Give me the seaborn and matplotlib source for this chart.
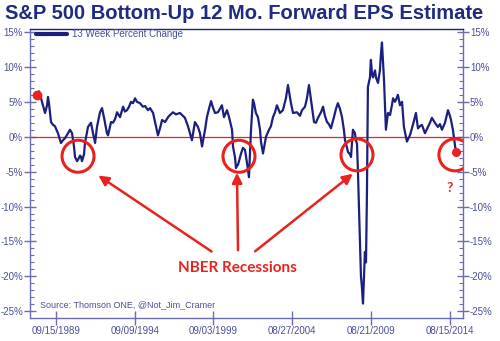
import numpy as np
import pandas as pd
import matplotlib
matplotlib.use("Agg")
import matplotlib.pyplot as plt
from matplotlib.patches import Ellipse
import seaborn as sns

# ---- data (decimal years, 13-week % change) ----
years = [1988.50, 1988.63, 1988.76, 1988.88, 1989.01, 1989.14, 1989.20, 1989.26, 1989.39, 1989.52,
         1989.64, 1989.83, 1990.02, 1990.15, 1990.28, 1990.47, 1990.59, 1990.72, 1990.85, 1990.91,
         1991.04, 1991.10, 1991.23, 1991.29, 1991.35, 1991.48, 1991.54, 1991.73, 1991.92, 1992.05,
         1992.18, 1992.30, 1992.49, 1992.62, 1992.74, 1992.93, 1993.00, 1993.19, 1993.31, 1993.44,
         1993.57, 1993.76, 1993.95, 1994.07, 1994.20, 1994.33, 1994.45, 1994.58, 1994.71, 1994.83,
         1995.02, 1995.21, 1995.34, 1995.53, 1995.66, 1995.85, 1996.04, 1996.16, 1996.29, 1996.42,
         1996.61, 1996.80, 1996.92, 1997.11, 1997.30, 1997.55, 1997.87, 1998.06, 1998.31, 1998.50,
         1998.69, 1998.82, 1998.95, 1999.14, 1999.26, 1999.39, 1999.52, 1999.64, 1999.77, 1999.96,
         2000.21, 2000.34, 2000.53, 2000.66, 2000.85, 2000.91, 2001.04, 2001.10, 2001.16, 2001.23,
         2001.35, 2001.42, 2001.54, 2001.67, 2001.80, 2001.92, 2001.99, 2002.05, 2002.17, 2002.24,
         2002.36, 2002.49, 2002.62, 2002.68, 2002.81, 2003.00, 2003.19, 2003.31, 2003.44, 2003.57,
         2003.69, 2003.88, 2004.07, 2004.26, 2004.39, 2004.58, 2004.71, 2004.96, 2005.15, 2005.28,
         2005.47, 2005.59, 2005.72, 2005.91, 2006.04, 2006.16, 2006.29, 2006.48, 2006.61, 2006.73,
         2006.86, 2006.98, 2007.11, 2007.30, 2007.43, 2007.55, 2007.68, 2007.81, 2007.93, 2008.00,
         2008.12, 2008.19, 2008.31, 2008.38, 2008.44, 2008.50, 2008.63, 2008.69, 2008.76, 2008.82,
         2008.95, 2009.01, 2009.07, 2009.14, 2009.20, 2009.26, 2009.33, 2009.39, 2009.45, 2009.58,
         2009.64, 2009.71, 2009.77, 2009.90, 2009.96, 2010.09, 2010.21, 2010.28, 2010.34, 2010.40,
         2010.47, 2010.59, 2010.72, 2010.85, 2010.97, 2011.04, 2011.16, 2011.23, 2011.35, 2011.48,
         2011.61, 2011.73, 2011.92, 2012.11, 2012.30, 2012.49, 2012.62, 2012.74, 2012.87, 2013.06,
         2013.25, 2013.38, 2013.50, 2013.69, 2013.88, 2014.01, 2014.14, 2014.33, 2014.52, 2014.64,
         2014.71, 2014.83, 2014.96, 2015.02]
pct_change = [6.0, 6.5, 5.5, 4.5, 3.4, 4.5, 5.7, 4.8, 2.1, 1.7,
              1.5, 0.5, -0.9, -0.5, -0.2, 0.5, 1.0, 0.5, -1.5, -2.9,
              -3.5, -3.3, -2.7, -2.9, -3.5, -2.5, -0.9, 1.4, 2.0, 0.5,
              -0.9, 1.4, 3.5, 4.1, 2.8, 0.5, 0.2, 2.1, 2.0, 2.5,
              3.5, 2.8, 4.3, 3.6, 3.8, 4.3, 5.0, 4.8, 5.5, 5.0,
              4.8, 4.3, 4.4, 3.8, 4.1, 3.4, 1.4, 0.2, 1.2, 2.4,
              2.1, 2.8, 3.1, 3.5, 3.2, 3.4, 2.7, 1.5, -0.5, 2.1,
              1.4, 0.5, -1.4, 1.0, 2.8, 4.0, 5.1, 4.2, 3.4, 3.5,
              4.5, 2.8, 3.8, 2.8, 1.0, -1.4, -3.0, -4.5, -4.2, -4.0,
              -3.0, -2.4, -1.6, -1.9, -3.8, -5.8, -2.0, 1.0, 5.3, 4.8,
              3.4, 2.8, 1.0, -0.7, -2.4, 0.0, 1.0, 1.5, 2.8, 3.5,
              4.5, 3.4, 3.8, 5.5, 7.4, 4.8, 3.4, 3.5, 3.0, 3.8,
              4.3, 5.5, 7.4, 4.3, 2.1, 2.0, 2.7, 3.5, 4.3, 3.0,
              2.1, 1.8, 1.2, 2.8, 4.0, 4.8, 4.0, 2.8, 1.0, -0.5,
              -1.5, -2.2, -2.5, -2.9, -1.0, 1.0, 0.5, -0.5, -1.0, -5.0,
              -15.0, -20.0, -21.5, -23.9, -20.0, -16.5, -18.0, -8.0, 7.1, 8.5,
              11.0, 9.0, 8.5, 9.5, 8.5, 7.7, 9.5, 12.0, 13.5, 11.0,
              8.1, 1.0, 3.4, 3.1, 4.5, 5.5, 5.0, 5.3, 6.0, 4.5,
              5.0, 1.4, -0.7, 0.2, 1.7, 3.4, 1.2, 1.5, 1.7, 0.5,
              1.4, 2.0, 2.7, 2.0, 1.4, 1.8, 1.0, 2.0, 3.8, 3.0,
              2.4, 1.0, -1.2, -2.2]
tick_dates = ["1989-09-15", "1994-09-09", "1999-09-03", "2004-08-27", "2009-08-21", "2014-08-15"]
tick_labels = ["09/15/1989", "09/09/1994", "09/03/1999", "08/27/2004", "08/21/2009", "08/15/2014"]
y_ticks = [-25, -20, -15, -10, -5, 0, 5, 10, 15]
recession_centers = [1991.10, 2001.29, 2008.76]
recession_levels = [-2.8, -2.8, -2.6]
latest_center = [2014.96, -2.6]
series_label = "13 Week Percent Change"
title = "S&P 500 Bottom-Up 12 Mo. Forward EPS Estimate"
source = "Source: Thomson ONE, @Not_Jim_Cramer"

def to_dec(s):
    t = pd.Timestamp(s)
    return t.year + (t.dayofyear - 1) / 365.25

df = pd.DataFrame({"year": years, "pct": pct_change})

NAVY = "#1b1f7d"
AXC = "#6b6bb0"
TXT = "#4a4f9a"
RED = "#e8231f"

sns.set_theme(style="white")
plt.rcParams["font.family"] = ["Liberation Sans", "DejaVu Sans"]

fig = plt.figure(figsize=(5.0, 3.41), dpi=100)
ax = fig.add_axes([0.060, 0.0674, 0.866, 0.8476])

ax.axhline(0, color=RED, lw=0.9, zorder=1)
sns.lineplot(data=df, x="year", y="pct", ax=ax, color=NAVY, lw=1.6, label=series_label, zorder=3)

ax.set_xlim(1988.06, 2015.47)
ax.set_ylim(-25.97, 15.43)

# red dots
ax.plot([years[0]], [pct_change[0]], "o", color=RED, ms=6, zorder=4)
ax.plot([years[-1]], [pct_change[-1]], "o", color=RED, ms=5.5, zorder=4)

# circles (32 px diameter)
xw = 32 / 15.8
yh = 32 / 6.98
for cx, cy in zip(recession_centers + [latest_center[0]], recession_levels + [latest_center[1]]):
    ax.add_patch(Ellipse((cx, cy), xw, yh, fill=False, ec=RED, lw=2.2, zorder=5))

# arrows
arrow_kw = dict(arrowstyle="-|>,head_length=0.5,head_width=0.25", color=RED, lw=1.8)
ax.annotate("", xy=(1992.24, -5.34), xytext=(1999.70, -16.66), arrowprops=arrow_kw)
ax.annotate("", xy=(2001.16, -4.77), xytext=(2001.23, -16.66), arrowprops=arrow_kw)
ax.annotate("", xy=(2008.63, -5.06), xytext=(2002.17, -16.66), arrowprops=arrow_kw)
ax.text(2001.16, -18.84, "NBER Recessions", color=RED, fontsize=11, fontweight="bold",
        ha="center", va="center", family=["Lato", "DejaVu Sans"])
ax.text(2014.64, -7.34, "?", color=RED, fontsize=10, fontweight="bold",
        ha="center", va="center", family=["Lato", "DejaVu Sans"])

# axes styling
for s in ax.spines.values():
    s.set_color(AXC)
    s.set_linewidth(1.0)
ax.spines["top"].set_color(NAVY)
ax.set_xticks([to_dec(d) for d in tick_dates])
ax.set_xticklabels(tick_labels)
ax.set_yticks(y_ticks)
ax.set_yticklabels([f"{v}%" for v in y_ticks])
ax.set_yticks(np.arange(-25, 16, 1), minor=True)
ax.tick_params(axis="y", which="major", direction="inout", length=8, width=1, color=AXC,
               labelsize=7, labelcolor=TXT, left=True, right=True, labelleft=True, labelright=True, pad=1)
ax.tick_params(axis="y", which="minor", direction="in", length=3, width=0.8, color=AXC,
               left=True, right=True)
ax.tick_params(axis="x", which="major", direction="inout", length=10, width=1, color=AXC,
               labelsize=7, labelcolor=TXT, bottom=True, pad=1)
ax.set_xlabel("")
ax.set_ylabel("")
ax.grid(False)

leg = ax.legend(loc="upper left", bbox_to_anchor=(0.0, 1.02), frameon=False, fontsize=7,
                handlelength=3.2, handletextpad=0.5, borderaxespad=0.2)
for t in leg.get_texts():
    t.set_color(TXT)
for h in leg.get_lines():
    h.set_linewidth(3)

ax.text(0.023, 0.045, source, transform=ax.transAxes, fontsize=6.5, color=TXT, ha="left", va="center")

fig.text(0.010, 0.960, title, fontsize=14.5, fontweight="bold", color="#1f2a80", ha="left", va="center")

fig.savefig("out.png", dpi=100)
